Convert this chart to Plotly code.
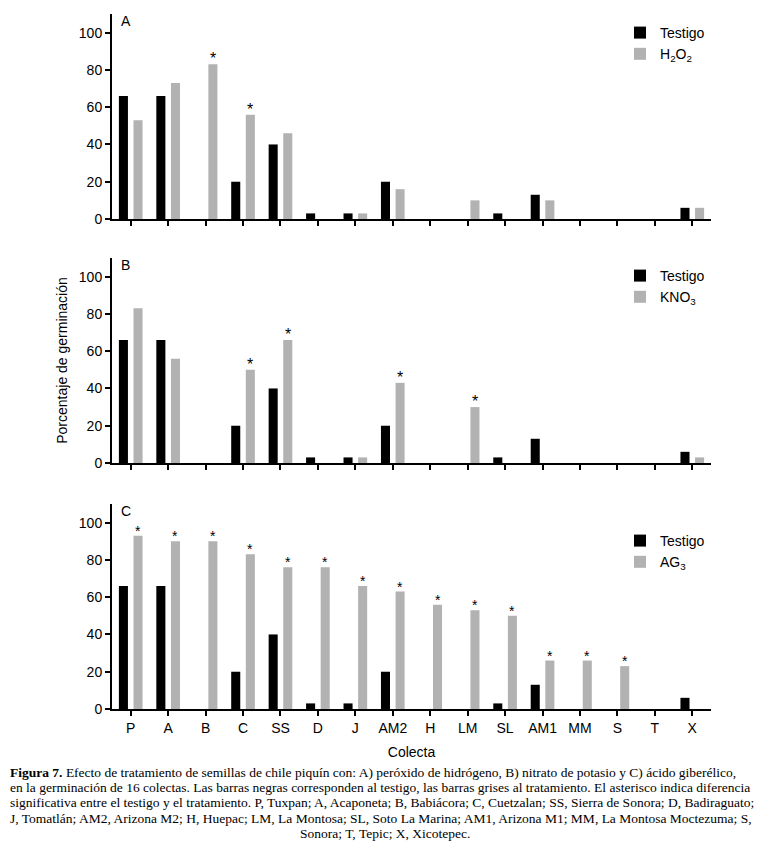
import plotly.graph_objects as go

categories = ["P", "A", "B", "C", "SS", "D", "J", "AM2", "H", "LM", "SL", "AM1", "MM", "S", "T", "X"]

testigo = [66, 66, 0, 20, 40, 3, 3, 20, 0, 0, 3, 13, 0, 0, 0, 6]

h2o2 = [53, 73, 83, 56, 46, 0, 3, 16, 0, 10, 0, 10, 0, 0, 0, 6]
h2o2_sig = [False, False, True, True, False, False, False, False, False, False, False, False, False, False, False, False]

kno3 = [83, 56, 0, 50, 66, 0, 3, 43, 0, 30, 0, 0, 0, 0, 0, 3]
kno3_sig = [False, False, False, True, True, False, False, True, False, True, False, False, False, False, False, False]

ag3 = [93, 90, 90, 83, 76, 76, 66, 63, 56, 53, 50, 26, 26, 23, 0, 0]
ag3_sig = [True] * 14 + [False, False]

panels = [
    ("A", "H<sub>2</sub>O<sub>2</sub>", h2o2, h2o2_sig, 16),
    ("B", "KNO<sub>3</sub>", kno3, kno3_sig, 16),
    ("C", "AG<sub>3</sub>", ag3, ag3_sig, 14),
]

caption_lines = [
    "<b>Figura 7.</b> Efecto de tratamiento de semillas de chile piquín con: A) peróxido de hidrógeno, B) nitrato de potasio y C) ácido giberélico,",
    "en la germinación de 16 colectas. Las barras negras corresponden al testigo, las barras grises al tratamiento. El asterisco indica diferencia",
    "significativa entre el testigo y el tratamiento. P, Tuxpan; A, Acaponeta; B, Babiácora; C, Cuetzalan; SS, Sierra de Sonora; D, Badiraguato;",
    "J, Tomatlán; AM2, Arizona M2; H, Huepac; LM, La Montosa; SL, Soto La Marina; AM1, Arizona M1; MM, La Montosa Moctezuma; S,",
    "Sonora; T, Tepic; X, Xicotepec.",
]

# page has an 8px body margin: figure pixel = page pixel - 8
OFF = 8
W, H = 769 - OFF, 856 - OFF


def px(x):
    return (x - OFF) / W


def py(y):
    return 1 - (y - OFF) / H


FONT = "Liberation Sans, Arial, sans-serif"
BLACK = "#000000"
GRAY = "#b2b2b2"
BARGAP = 0.22
BARGROUPGAP = 0.38

x_dom = [px(112), px(711)]
y_doms = [
    [py(219), py(14)],
    [py(463), py(258)],
    [py(709), py(504)],
]
legend_tops = [py(17), py(260), py(525)]

cat_px = (711 - 112) / len(categories)
gray_shift = (1 - BARGAP) / 4 * cat_px

fig = go.Figure()

for i, (letter, tname, tvals, tsig, star_size) in enumerate(panels):
    n = i + 1
    xa = "x" if n == 1 else f"x{n}"
    ya = "y" if n == 1 else f"y{n}"
    lg = "legend" if n == 1 else f"legend{n}"
    fig.add_trace(go.Bar(
        x=categories, y=testigo, name="Testigo", marker_color=BLACK,
        marker_line_width=0, xaxis=xa, yaxis=ya, legend=lg,
    ))
    fig.add_trace(go.Bar(
        x=categories, y=tvals, name=tname, marker_color=GRAY,
        marker_line_width=0, xaxis=xa, yaxis=ya, legend=lg,
    ))
    for cat, val, sig in zip(categories, tvals, tsig):
        if sig:
            fig.add_annotation(
                text="*", x=cat, y=val, xref=xa, yref=ya,
                xshift=gray_shift, yshift=-5, xanchor="center", yanchor="bottom",
                showarrow=False, font=dict(family=FONT, size=star_size, color=BLACK),
            )
    xkey = "xaxis" if n == 1 else f"xaxis{n}"
    ykey = "yaxis" if n == 1 else f"yaxis{n}"
    fig.update_layout(**{
        xkey: dict(
            domain=x_dom, anchor=ya, type="category",
            categoryorder="array", categoryarray=categories,
            range=[-0.5, len(categories) - 0.5],
            showline=True, linecolor=BLACK, linewidth=2,
            ticks="outside", ticklen=5, tickwidth=2, tickcolor=BLACK,
            showticklabels=(n == 3), showgrid=False, zeroline=False,
            tickfont=dict(family=FONT, size=14, color=BLACK),
            automargin=False,
        ),
        ykey: dict(
            domain=y_doms[i], anchor=xa, range=[0, 110],
            tickvals=[0, 20, 40, 60, 80, 100],
            showline=True, linecolor=BLACK, linewidth=2,
            ticks="outside", ticklen=5, tickwidth=1.5, tickcolor=BLACK,
            showgrid=False, zeroline=False,
            tickfont=dict(family=FONT, size=14, color=BLACK),
            automargin=False,
        ),
        lg: dict(
            x=px(620), y=legend_tops[i], xanchor="left", yanchor="top",
            bgcolor="rgba(0,0,0,0)", borderwidth=0,
            font=dict(family=FONT, size=14, color=BLACK),
            tracegroupgap=0, itemclick=False,
        ),
    })
    fig.add_annotation(
        text=letter, xref=f"{xa} domain", yref=f"{ya} domain",
        x=0.012, y=1.0, yshift=3, xanchor="left", yanchor="top", showarrow=False,
        font=dict(family=FONT, size=14, color=BLACK),
    )

fig.update_layout(
    yaxis2_title=dict(text="Porcentaje de germinación", standoff=8,
                      font=dict(family=FONT, size=14, color=BLACK)),
    xaxis3_title=dict(text="Colecta", standoff=12,
                      font=dict(family=FONT, size=14, color=BLACK)),
)

for j, line in enumerate(caption_lines):
    last = j == len(caption_lines) - 1
    fig.add_annotation(
        text=line, xref="paper", yref="paper",
        x=0.5 * (px(8) + px(762)) if last else px(8), xanchor="center" if last else "left",
        y=py(772 + j * 15.4), yanchor="middle",
        showarrow=False, align="left",
        font=dict(family="Liberation Serif, Times New Roman, serif", size=13.5, color=BLACK),
    )

fig.update_layout(
    width=W, height=H,
    margin=dict(l=0, r=0, t=0, b=0),
    paper_bgcolor="white", plot_bgcolor="white",
    barmode="group", bargap=BARGAP, bargroupgap=BARGROUPGAP,
    showlegend=True,
    font=dict(family=FONT, size=14, color=BLACK),
)

fig.write_html("out.html")
